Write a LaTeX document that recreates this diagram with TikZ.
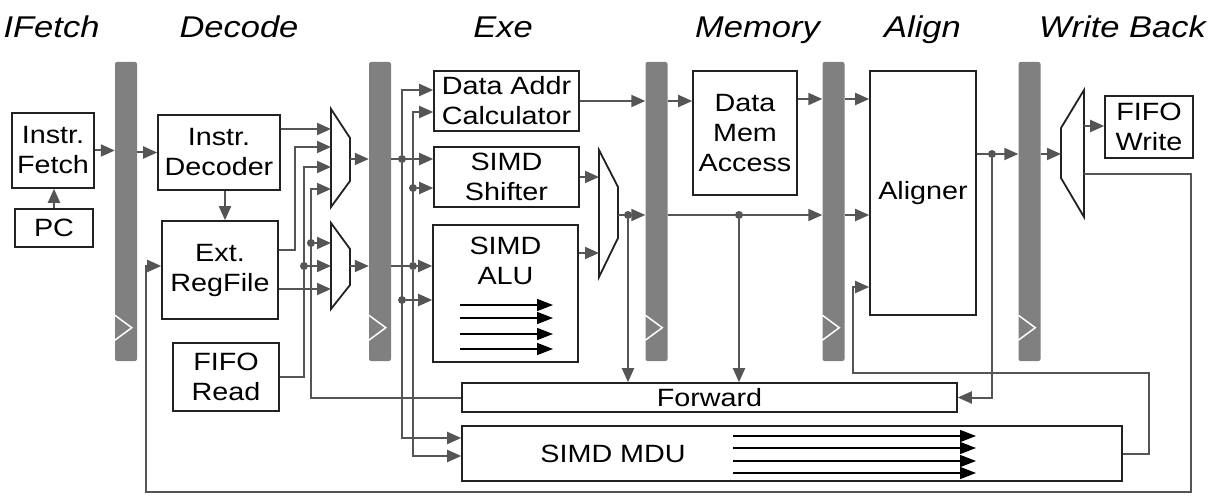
\documentclass[tikz,border=0pt]{standalone}
\usepackage{fontspec}
\setmainfont[FakeStretch=1.15]{Liberation Sans}
\usetikzlibrary{arrows.meta,positioning}
\definecolor{wire}{HTML}{555555}
\definecolor{regbar}{HTML}{808080}
\definecolor{boxline}{HTML}{222222}
\tikzset{
  box/.style={draw=boxline, line width=1.6pt, fill=white, align=center, inner sep=0pt, font=\fontsize{25}{30}\selectfont},
  lbl/.style={inner sep=0pt, align=center, font=\fontsize{25}{30}\selectfont},
  pipereg/.style={fill=regbar, draw=none, rounded corners=2pt, minimum width=22pt, minimum height=299pt, inner sep=0pt},
  stage/.style={font=\fontsize{30}{32}\selectfont\itshape, anchor=base},
  wire/.style={draw=wire, line width=2pt},
  arr/.style={wire, -{Triangle[length=14pt,width=12pt]}},
  dot/.style={circle, fill=wire, inner sep=0pt, minimum size=8pt},
  mux/.style={draw=boxline, line width=1.8pt, fill=white, line join=miter},
  lane/.style={draw=black, line width=1.6pt, -{Triangle[length=16pt,width=12pt]}},
}
\begin{document}
\begin{tikzpicture}[x=1pt, y=-1pt]
  \useasboundingbox[fill=white] (0,0) rectangle (1211,497);

  % Stage titles
  \node[stage] (tfetch) at (51.5,38) {IFetch};
  \node[stage] (tdec) at (239,38) {Decode};
  \node[stage] (texe) at (503,38) {Exe};
  \node[stage] (tmem) at (757.5,38) {Memory};
  \node[stage] (talign) at (922.5,38) {Align};
  \node[stage] (twb) at (1122.5,38) {Write Back};

  % Pipeline registers
  \node[pipereg] (reg1) at (126,211.5) {};
  \node[pipereg] (reg2) at (380,211.5) {};
  \node[pipereg] (reg3) at (656.5,211.5) {};
  \node[pipereg] (reg4) at (833.5,211.5) {};
  \node[pipereg] (reg5) at (1029.5,211.5) {};
  \foreach \r in {reg1,reg2,reg3,reg4,reg5}
    \draw[white, line width=1.5pt] ([yshift=46pt]\r.south west) -- ([xshift=17pt,yshift=33.5pt]\r.south west) -- ([yshift=21pt]\r.south west);

  % Blocks
  \node[box, minimum width=82pt, minimum height=75pt] (fetch) at (53,150.5) {Instr.\\Fetch};
  \node[box, minimum width=78pt, minimum height=38pt] (pc) at (54,228) {PC};
  \node[box, minimum width=122pt, minimum height=75pt] (dec) at (219,152.5) {Instr.\\Decoder};
  \node[box, minimum width=116pt, minimum height=98pt] (rf) at (220,270) {Ext.\\RegFile};
  \node[box, minimum width=106pt, minimum height=68pt] (fiford) at (226,377) {FIFO\\Read};
  \node[box, minimum width=145pt, minimum height=60pt] (calc) at (506.5,101) {Data Addr\\Calculator};
  \node[box, minimum width=145pt, minimum height=60pt] (shift) at (506.5,177) {SIMD\\Shifter};
  \node[box, minimum width=145pt, minimum height=137pt,
        label={[lbl, anchor=north, yshift=-13pt]north:SIMD\\ALU}] (alu) at (505.5,293.5) {};
  \node[box, minimum width=104pt, minimum height=124pt] (mem) at (745,133) {Data\\Mem\\Access};
  \node[box, minimum width=106pt, minimum height=244pt] (align) at (923,193) {Aligner};
  \node[box, minimum width=88pt, minimum height=62pt] (fifowr) at (1149,127) {FIFO\\Write};
  \node[box, minimum width=495pt, minimum height=29pt] (fwd) at (709.5,397.5) {Forward};
  \node[box, minimum width=660pt, minimum height=55pt,
        label={[lbl, anchor=west, xshift=79pt]west:SIMD MDU}] (mdu) at (792,453.5) {};

  % SIMD lanes
  \foreach \y in {305,318,334,349}
    \draw[lane] (460,\y) -- (553,\y);
  \foreach \y in {436,448,461,473}
    \draw[lane] (733,\y) -- (976,\y);

  % Muxes
  \draw[mux] (331,109) -- (350,138) -- (350,181) -- (331,207) -- cycle;
  \draw[mux] (331,223) -- (350,249) -- (350,285) -- (331,309) -- cycle;
  \draw[mux] (599,150) -- (618,187) -- (618,238) -- (599,277) -- cycle;
  \draw[mux] (1061,128) -- (1084,90) -- (1084,217) -- (1061,178) -- cycle;

  % Mux ports
  \coordinate (m1a) at (331,129);
  \coordinate (m1b) at (331,147);
  \coordinate (m1c) at (331,167);
  \coordinate (m1d) at (331,189);
  \coordinate (m1o) at (350,159);
  \coordinate (m2a) at (331,243);
  \coordinate (m2b) at (331,266);
  \coordinate (m2c) at (331,289);
  \coordinate (m2o) at (350,266);
  \coordinate (m3a) at (599,177);
  \coordinate (m3b) at (599,253);
  \coordinate (m3o) at (618,215);
  \coordinate (m4i) at (1061,154);
  \coordinate (m4a) at (1084,126);
  \coordinate (m4b) at (1084,174);

  % Fetch
  \draw[arr] (pc.north) -- (pc.north |- fetch.south);
  \draw[arr] (fetch.east) -- (fetch.east -| reg1.west);
  \draw[arr] (reg1.east |- dec.west) -- (dec.west);

  % Decode
  \draw[arr] ([xshift=6pt]dec.south) -- ([xshift=6pt]dec.south |- rf.north);
  \draw[arr] (dec.east |- m1a) -- (m1a);
  \draw[arr] ([yshift=20pt]rf.east) -| ([xshift=-36pt]m1b) -- (m1b);
  \draw[arr] (fiford.east) -| ([xshift=-27pt]m1c) -- (m1c);
  \draw[arr] (fwd.west) -| ([xshift=-20pt]m1d) -- (m1d);
  \node[dot] (j1) at (304,266) {};
  \node[dot] (j2) at (311,243) {};
  \draw[arr] (j1) -- (m2b);
  \draw[arr] (j2) -- (m2a);
  \draw[arr] (rf.east |- m2c) -- (m2c);
  \draw[arr] (m1o) -- (m1o -| reg2.west);
  \draw[arr] (m2o) -- (m2o -| reg2.west);

  % Exe
  \draw[arr] (reg2.east |- m1o) -- (m1o -| shift.west);
  \draw[arr] (reg2.east |- m2o) -- (m2o -| alu.west);
  \node[dot] (j3) at (402,159) {};
  \node[dot] (j4) at (413,266) {};
  \node[dot] (j5) at (402,300) {};
  \node[dot] (j6) at (413,188) {};
  \draw[arr] (j3) |- ([yshift=11pt]calc.west);
  \draw[arr] (j3) |- ([yshift=15.5pt]mdu.west);
  \draw[arr] (j5) -- (j5 -| alu.west);
  \draw[arr] (j4) |- ([yshift=-11pt]calc.west);
  \draw[arr] (j4) |- ([yshift=-2.5pt]mdu.west);
  \draw[arr] (j6) -- (j6 -| shift.west);
  \draw[arr] (calc.east) -- (calc.east -| reg3.west);
  \draw[arr] (shift.east) -- (m3a);
  \draw[arr] (alu.east |- m3b) -- (m3b);
  \draw[arr] (m3o) -- (m3o -| reg3.west);
  \node[dot] (j7) at (628,215) {};
  \draw[arr] (j7) -- (j7 |- fwd.north);

  % Memory
  \draw[arr] (reg3.east |- calc.east) -- (mem.west |- calc.east);
  \draw[arr] (reg3.east |- m3o) -- (reg4.west |- m3o);
  \node[dot] (j8) at (739,215) {};
  \draw[arr] (j8) -- (j8 |- fwd.north);
  \draw[arr] ([yshift=34pt]mem.east) -- ([yshift=34pt]mem.east -| reg4.west);

  % Align
  \draw[arr] ([yshift=34pt]mem.east -| reg4.east) -- ([yshift=34pt]mem.east -| align.west);
  \draw[arr] (reg4.east |- m3o) -- (align.west |- m3o);
  \coordinate (lp1) at (1149,373);
  \coordinate (lp2) at (853,287);
  \draw[arr] (mdu.east) -| (lp1) -| (lp2) -- (lp2 -| align.west);

  % Write back
  \draw[arr] (align.east |- m4i) -- (reg5.west |- m4i);
  \node[dot] (j9) at (992,154) {};
  \draw[arr] (j9) |- (fwd.east);
  \draw[arr] (reg5.east |- m4i) -- (m4i);
  \draw[arr] (m4a) -- (m4a -| fifowr.west);
  \coordinate (fb1) at (1191,492);
  \coordinate (fb2) at (146,266);
  \draw[arr] (m4b) -| (fb1) -| (fb2) -- (fb2 -| rf.west);
\end{tikzpicture}
\end{document}
